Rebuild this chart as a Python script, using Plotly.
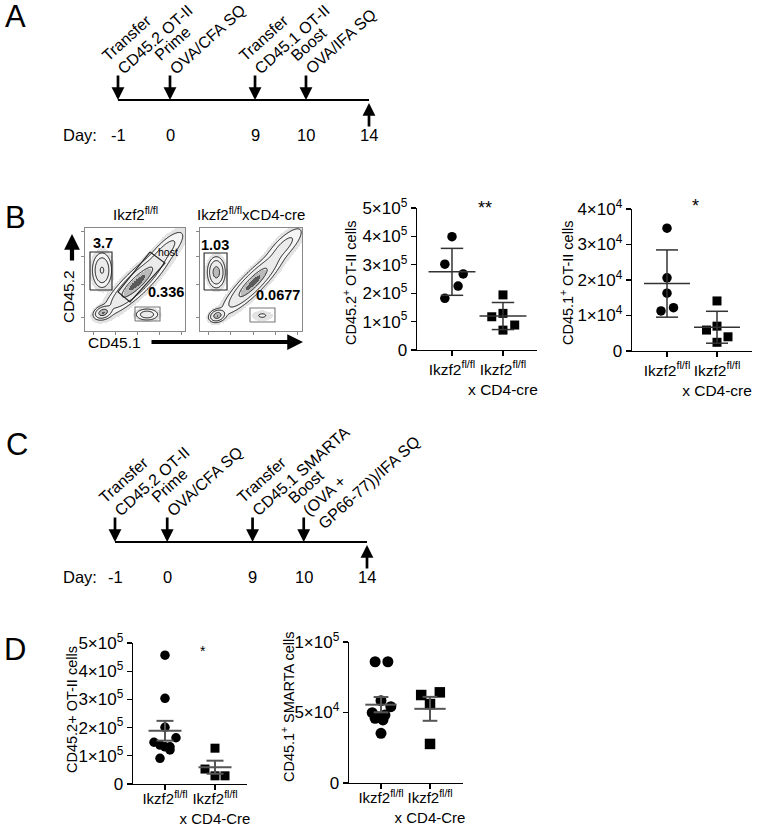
import numpy as np
import plotly.graph_objects as go

W, H = 759, 829
FONT = "Liberation Sans, Arial, sans-serif"

# ------------------------------------------------------------------ data
day_labels = ["-1", "0", "9", "10", "14"]
events_a = [["Transfer", "CD45.2 OT-II"], ["Prime", "OVA/CFA SQ"],
            ["Transfer", "CD45.1 OT-II"], ["Boost", "OVA/IFA SQ"]]
events_c = [["Transfer", "CD45.2 OT-II"], ["Prime", "OVA/CFA SQ"],
            ["Transfer", "CD45.1 SMARTA"], ["Boost", "(OVA +", "GP66-77))/IFA SQ"]]

groups_b = ["Ikzf2<sup>fl/fl</sup>", "Ikzf2<sup>fl/fl</sup><br>x CD4-cre"]
groups_d = ["Ikzf2<sup>fl/fl</sup>", "Ikzf2<sup>fl/fl</sup><br>x CD4-Cre"]

# flow plots: populations (x, y, sd_along, sd_across, angle, weight) on 0-100 display scale
flow1_pops = [(17, 59, 4.0, 7.0, 0, 0.55), (52, 47, 17, 4.5, 43, 1.0), (18, 18, 4.0, 2.6, 20, 0.85),
              (80, 78, 12, 4.0, 45, 0.22), (62, 16, 5.0, 2.5, 0, 0.30)]
flow2_pops = [(16, 57, 3.5, 6.0, 0, 0.75), (52, 47, 16, 4.0, 45, 1.0), (17, 15, 3.5, 2.5, 20, 0.85),
              (82, 82, 12, 4.0, 45, 0.20), (61, 15, 5.0, 2.5, 0, 0.04)]
flow1_gates = {"cd452": [(5, 39.8), (27, 39.8), (27, 76.7), (5, 76.7), (5, 39.8)],
               "host": [(65, 76.7), (80, 66), (45, 28.2), (33, 37.9), (65, 76.7)],
               "cd451": [(50, 9.7), (75, 9.7), (75, 23.3), (50, 23.3), (50, 9.7)]}
flow2_gates = {"cd452": [(4, 39.8), (26.5, 39.8), (26.5, 75.7), (4, 75.7), (4, 39.8)],
               "cd451": [(49, 8.7), (73.5, 8.7), (73.5, 22.3), (49, 22.3), (49, 8.7)]}
flow1_labels = [("3.7", 18, 85.4), ("0.336", 81, 37.9)]
flow2_labels = [("1.03", 14.7, 83.5), ("0.0677", 76.5, 35)]

b1_wt = [3.99e5, 3.02e5, 2.68e5, 2.25e5, 1.82e5]
b1_ko = [1.94e5, 1.17e5, 1.29e5, 0.88e5, 0.70e5]
b2_wt = [3.46e4, 2.06e4, 1.63e4, 1.13e4, 1.22e4]
b2_ko = [1.41e4, 0.59e4, 0.70e4, 0.40e4, 0.245e4]
d1_wt = [4.57e5, 3.04e5, 2.01e5, 1.64e5, 1.48e5, 1.38e5, 1.32e5, 1.32e5, 1.21e5, 0.91e5]
d1_ko = [1.27e5, 0.53e5, 0.29e5, 0.29e5]
d2_wt = [8.6e4, 8.6e4, 5.84e4, 5.41e4, 4.99e4, 4.82e4, 4.7e4, 4.59e4, 4.47e4, 3.52e4]
d2_ko = [6.24e4, 6.43e4, 5.6e4, 2.77e4]

# ------------------------------------------------------------------ layout helpers (positions)
slot = [0, 1, 2.635, 3.615, 4.827]
jit_b1_wt = [0, -0.14, 0.22, 0.12, -0.14]
jit_b1_ko = [0, -0.22, 0, 0.23, 0]
jit_b2_wt = [0, 0, 0, -0.12, 0.13]
jit_b2_ko = [0, -0.21, 0, 0.22, 0]
jit_d1_wt = [0, 0, 0, 0.22, -0.22, -0.1, 0, 0.1, 0.1, -0.1]
jit_d1_ko = [0, -0.2, 0, 0.2]
jit_d2_wt = [-0.12, 0.14, 0, 0.2, -0.18, 0.08, -0.07, -0.12, 0.04, 0]
jit_d2_ko = [-0.18, 0.2, 0, 0]


def PX(x):
    return x / W


def PY(y):
    return 1 - y / H


def dx(a, b):
    return [a / W, b / W]


def dy(top, bottom):
    return [1 - bottom / H, 1 - top / H]


fig = go.Figure()
ann = []


def txt(x, y, text, size, angle=0, xa="center", ya="middle", **kw):
    d = dict(x=PX(x), y=PY(y), xref="paper", yref="paper", text=text, showarrow=False,
             textangle=angle, xanchor=xa, yanchor=ya,
             font=dict(size=size, color="black", family=FONT))
    d.update(kw)
    ann.append(d)


hidden = dict(visible=False, showgrid=False, zeroline=False, automargin=False)


# ------------------------------------------------------------------ timelines
def timeline(xa, ya, xname, yname, line_px, events, x0px, x1px):
    fig.add_trace(go.Scatter(x=[slot[0], slot[-1]], y=[0, 0], mode="lines",
                             line=dict(color="black", width=2), xaxis=xname, yaxis=yname,
                             hoverinfo="skip", showlegend=False))
    fig.update_layout(**{xa: dict(domain=dx(x0px, x1px), range=[slot[0], slot[-1]], anchor=yname, **hidden),
                         ya: dict(domain=dy(line_px - 10, line_px + 10), range=[-1, 1], anchor=xname, **hidden)})
    for i in range(4):
        ann.append(dict(x=slot[i], y=0, xref=xname, yref=yname, text="", showarrow=True,
                        ax=0, ay=-26, arrowhead=2, arrowsize=0.95, arrowwidth=2.7, arrowcolor="black"))
        for k, t in enumerate(events[i]):
            sx = -10 + 15 * k
            sy = (line_px - 25) - 11 + 13 * k
            ann.append(dict(x=slot[i], y=PY(sy + 3), xref=xname, yref="paper",
                            xshift=sx - 11.5, text=t, showarrow=False, textangle=-42,
                            xanchor="left", yanchor="bottom",
                            font=dict(size=16, color="black", family=FONT)))
    ann.append(dict(x=slot[4], y=-0.3, xref=xname, yref=yname, text="", showarrow=True,
                    ax=0, ay=25, arrowhead=2, arrowsize=0.95, arrowwidth=2.7, arrowcolor="black"))
    for i, d in enumerate(day_labels):
        ann.append(dict(x=slot[i], y=PY(line_px + 35), xref=xname, yref="paper", text=d,
                        showarrow=False, xanchor="center", yanchor="middle",
                        font=dict(size=16.5, color="black", family=FONT)))
    txt(80, line_px + 35, "Day:", 16.5)


timeline("xaxis", "yaxis", "x", "y", 100, events_a, 118, 369)
timeline("xaxis6", "yaxis6", "x6", "y6", 542, events_c, 115, 367)


# ------------------------------------------------------------------ flow plots
def density(pops):
    g = np.linspace(0, 100, 161)
    X, Y = np.meshgrid(g, g)
    Z = np.zeros_like(X)
    for (u, v, sa, sb, ang, w) in pops:
        t = np.radians(ang)
        ddx, ddy = X - u, Y - v
        a = ddx * np.cos(t) + ddy * np.sin(t)
        b = -ddx * np.sin(t) + ddy * np.cos(t)
        Z += w * np.exp(-0.5 * ((a / sa) ** 2 + (b / sb) ** 2))
    return g, np.log10(Z / Z.max() + 1e-9)


band_cols = ["white", "#e3e3e3", "#f5f5f5", "#ebebeb", "#bababa", "#5a5a5a"]
band_cs = []
for i, c in enumerate(band_cols):
    band_cs += [[i / 6, c], [(i + 1) / 6, c]]


def flow(xname, yname, xa, ya, pops, gates, labels, x0px, x1px):
    g, L = density(pops)
    band = np.digitize(L, [-2.3, -1.5, -0.9, -0.25, -0.08])
    fig.add_trace(go.Heatmap(x=g, y=g, z=band, zmin=-0.5, zmax=5.5, colorscale=band_cs,
                             showscale=False, hoverinfo="skip", xaxis=xname, yaxis=yname))
    fig.add_trace(go.Contour(x=g, y=g, z=L, xaxis=xname, yaxis=yname,
                             colorscale=[[0, "black"], [1, "black"]], showscale=False, hoverinfo="skip",
                             contours=dict(start=-1.5, end=-0.3, size=0.6, coloring="lines"),
                             line=dict(width=0.9)))
    for name, pts in gates.items():
        fig.add_trace(go.Scatter(x=[p[0] for p in pts], y=[p[1] for p in pts], mode="lines",
                                 line=dict(color="#222" if name != "cd451" else "#777", width=1.1),
                                 xaxis=xname, yaxis=yname, hoverinfo="skip", showlegend=False))
    for t, u, v in labels:
        ann.append(dict(x=u, y=v, xref=xname, yref=yname, text="<b>%s</b>" % t, showarrow=False,
                        xanchor="center", yanchor="middle",
                        font=dict(size=14.5, color="black", family=FONT)))
    ax = dict(range=[0, 100], showgrid=False, zeroline=False, showline=True, mirror=True,
              linecolor="#888", linewidth=1, ticks="outside", ticklen=3, tickcolor="#888",
              showticklabels=False, automargin=False)
    fig.update_layout(**{xa: dict(domain=dx(x0px, x1px), anchor=yname, tickvals=[8, 30, 52, 74, 96], **ax),
                         ya: dict(domain=dy(228, 331), anchor=xname, tickvals=[13, 45, 72, 97], **ax)})


flow("x2", "y2", "xaxis2", "yaxis2", flow1_pops, flow1_gates, flow1_labels, 85, 185)
flow("x3", "y3", "xaxis3", "yaxis3", flow2_pops, flow2_gates, flow2_labels, 200, 302)
ann.append(dict(x=82.5, y=77, xref="x2", yref="y2", text="host", showarrow=False,
                xanchor="center", yanchor="middle", font=dict(size=10.5, color="black", family=FONT)))
txt(135, 213, "Ikzf2<sup>fl/fl</sup>", 15)
txt(251, 213, "Ikzf2<sup>fl/fl</sup>xCD4-cre", 15)
txt(68, 297, "CD45.2", 15.5, angle=-90)
txt(114, 342, "CD45.1", 15.5)
ann.append(dict(x=PX(72), y=PY(234), xref="paper", yref="paper", text="", showarrow=True,
                ax=0, ay=28, arrowhead=2, arrowsize=0.75, arrowwidth=4.2, arrowcolor="black"))
ann.append(dict(x=PX(303), y=PY(342), xref="paper", yref="paper", text="", showarrow=True,
                ax=-153, ay=0, arrowhead=2, arrowsize=0.75, arrowwidth=4.2, arrowcolor="black"))


# ------------------------------------------------------------------ dot plots
def dotplot(xname, yname, xa, ya, wt, ko, jw, jk, err, half, cap, ecol, ewid, msize,
            xdom, ydom, xr, ymax, tickv, tickt, groups, xfont=15.5, standoff=0):
    fig.add_trace(go.Scatter(x=[0 + j for j in jw], y=wt, mode="markers", xaxis=xname, yaxis=yname,
                             marker=dict(symbol="circle", size=msize, color="black"),
                             cliponaxis=False, hoverinfo="skip", showlegend=False))
    fig.add_trace(go.Scatter(x=[1 + j for j in jk], y=ko, mode="markers", xaxis=xname, yaxis=yname,
                             marker=dict(symbol="square", size=msize - 0.5, color="black"),
                             cliponaxis=False, hoverinfo="skip", showlegend=False))
    for c, vals in ((0, wt), (1, ko)):
        v = np.array(vals)
        m = v.mean()
        e = v.std(ddof=1) if err == "sd" else v.std(ddof=1) / np.sqrt(len(v))
        xs = [c - half, c + half, None, c, c, None, c - cap, c + cap, None, c - cap, c + cap]
        ys = [m, m, None, m - e, m + e, None, m + e, m + e, None, m - e, m - e]
        fig.add_trace(go.Scatter(x=xs, y=ys, mode="lines", xaxis=xname, yaxis=yname,
                                 line=dict(color=ecol, width=ewid), cliponaxis=False,
                                 hoverinfo="skip", showlegend=False))
    base = dict(showgrid=False, zeroline=False, showline=True, linecolor="black", linewidth=1.3,
                ticks="outside", ticklen=5, tickwidth=1.3, tickcolor="black", tickangle=0,
                automargin=False)
    fig.update_layout(**{xa: dict(domain=xdom, anchor=yname, range=xr, tickvals=[0, 1],
                                  ticktext=groups, tickfont=dict(size=xfont, color="black", family=FONT),
                                  ticklabelstandoff=standoff, **base),
                         ya: dict(domain=ydom, anchor=xname, range=[0, ymax], tickvals=tickv,
                                  ticktext=tickt, tickfont=dict(size=17, color="black", family=FONT),
                                  **base)})


sup = lambda m, e: "%d×10<sup>%d</sup>" % (m, e)

dotplot("x4", "y4", "xaxis4", "yaxis4", b1_wt, b1_ko, jit_b1_wt, jit_b1_ko, "sd", 0.46, 0.22,
        "#333", 1.5, 9.5, dx(417, 537), dy(208, 350), [-0.686, 1.667], 5e5,
        [0, 1e5, 2e5, 3e5, 4e5, 5e5], ["0"] + [sup(i, 5) for i in range(1, 6)], groups_b)
dotplot("x5", "y5", "xaxis5", "yaxis5", b2_wt, b2_ko, jit_b2_wt, jit_b2_ko, "sd", 0.46, 0.22,
        "#333", 1.5, 9.5, dx(632, 752), dy(209, 351), [-0.7, 1.7], 4e4,
        [0, 1e4, 2e4, 3e4, 4e4], ["0"] + [sup(i, 4) for i in range(1, 5)], groups_b)
dotplot("x7", "y7", "xaxis7", "yaxis7", d1_wt, d1_ko, jit_d1_wt, jit_d1_ko, "sem", 0.33, 0.17,
        "#555", 2, 9.5, dx(133, 247), dy(643, 784), [-0.64, 1.64], 5e5,
        [0, 1e5, 2e5, 3e5, 4e5, 5e5], ["0"] + [sup(i, 5) for i in range(1, 6)], groups_d,
        xfont=15, standoff=-4)
dotplot("x8", "y8", "xaxis8", "yaxis8", d2_wt, d2_ko, jit_d2_wt, jit_d2_ko, "sem", 0.32, 0.15,
        "#555", 2, 11, dx(349, 463), dy(642, 783), [-0.653, 1.673], 1e5,
        [0, 5e4, 1e5], ["0", sup(5, 4), sup(1, 5)], groups_d, xfont=15, standoff=-4)

# y titles
for t, x, y in [("CD45.2<sup>+</sup> OT-II cells", 350, 283), ("CD45.1<sup>+</sup> OT-II cells", 567, 283),
                ("CD45.2+ OT-II cells", 72, 710), ("CD45.1<sup>+</sup> SMARTA cells", 288, 707)]:
    txt(x, y, t, 14.5, angle=-90)
# significance
for t, x, y, s in [("**", 485, 208, 18), ("*", 695, 206, 18), ("*", 203, 651, 14)]:
    txt(x, y, t, s)
# panel letters
for t, x, y in [("A", 15, 17), ("B", 15, 217), ("C", 17, 445), ("D", 15, 649)]:
    txt(x, y, t, 31)

fig.update_layout(template="none", width=W, height=H, margin=dict(l=0, r=0, t=0, b=0, autoexpand=False),
                  paper_bgcolor="white", plot_bgcolor="white", showlegend=False,
                  font=dict(family=FONT, color="black"), annotations=ann)
fig.write_html("out.html", config={"displayModeBar": False, "staticPlot": True},
               post_script="document.body.style.margin='0px';document.body.style.padding='0px';"
                           "document.body.style.overflow='hidden';")
